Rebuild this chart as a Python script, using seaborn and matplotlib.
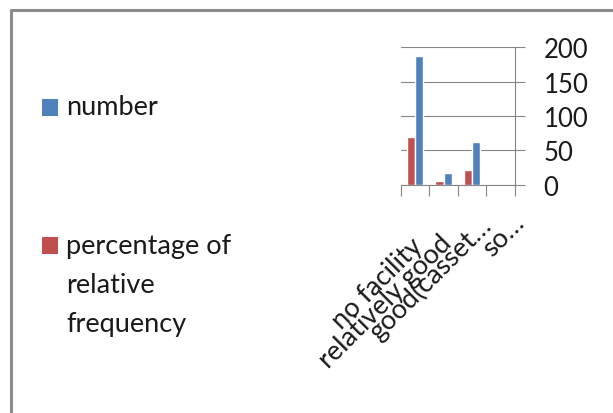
import matplotlib
matplotlib.use("Agg")
import matplotlib.pyplot as plt
from matplotlib.lines import Line2D
from matplotlib.patches import Rectangle
from matplotlib.transforms import ScaledTranslation
import seaborn as sns
import pandas as pd

# Library facility categories (labels truncated as in the original chart)
categories = ["no facility", "relatively good", "good(casset…", "so…"]
number = [187, 17, 62, 0]
percentage = [70, 5, 21, 0]
series_names = ["percentage of relative frequency", "number"]

df = pd.DataFrame({
    "category": categories * 2,
    "value": percentage + number,
    "series": [series_names[0]] * len(categories) + [series_names[1]] * len(categories),
})

RED = "#C0504D"
BLUE = "#4F81BD"
GRID = "#868686"
FRAME = "#8C8C8C"
TEXT = "#1a1a1a"

sns.set_theme(style="white")
plt.rcParams["font.family"] = ["Lato", "DejaVu Sans"]

fig = plt.figure(figsize=(6.13, 4.14), dpi=100)
ax = fig.add_axes([0.654, 0.5515, 0.186, 0.3318])

sns.barplot(data=df, x="category", y="value", hue="series",
            hue_order=series_names, palette=[RED, BLUE],
            width=0.58, saturation=1, ax=ax, legend=False)

ax.set_ylim(0, 200)
ax.set_xlim(-0.5, len(categories) - 0.5)
ax.set_xlabel("")
ax.set_ylabel("")

# value axis on the right
ax.yaxis.tick_right()
ax.set_yticks([0, 50, 100, 150, 200])
ax.tick_params(axis="y", which="major", direction="out", length=7.5, width=0.8,
               color=GRID, pad=13, labelsize=18.5, labelcolor=TEXT, right=True, left=False)
ax.yaxis.grid(True, color=GRID, linewidth=0.8)
ax.set_axisbelow(True)

# category boundaries as ticks, labels at centres
ax.set_xticks([i - 0.5 for i in range(len(categories) + 1)])
ax.set_xticklabels([])
ax.set_xticks(range(len(categories)), categories, minor=True)
ax.tick_params(axis="x", which="major", direction="out", length=8, width=0.8,
               color=GRID, bottom=True)
ax.tick_params(axis="x", which="minor", length=0, pad=24, labelsize=19.5,
               labelcolor=TEXT)
# rotated labels: longer ones hang lower, truncated ones sit further right
label_shift_px = [(4, -24), (4, -21), (15, -3), (20, 0)]
for lab, (dx, dy) in zip(ax.get_xticklabels(minor=True), label_shift_px):
    lab.set_rotation(45)
    lab.set_ha("right")
    lab.set_rotation_mode("anchor")
    lab.set_va("center")
    lab.set_transform(lab.get_transform() +
                      ScaledTranslation(dx / 100, dy / 100, fig.dpi_scale_trans))

for side in ["top", "left"]:
    ax.spines[side].set_visible(False)
for side in ["bottom", "right"]:
    ax.spines[side].set_color(GRID)
    ax.spines[side].set_linewidth(0.8)

# legend on the left
W, H = 613, 414
def fx(px):
    return px / W
def fy(py):
    return 1 - py / H

fig.add_artist(Rectangle((fx(42), fy(117)), 16 / W, 17 / H, transform=fig.transFigure,
                         facecolor=BLUE, edgecolor="none"))
fig.add_artist(Rectangle((fx(42), fy(255)), 16 / W, 17 / H, transform=fig.transFigure,
                         facecolor=RED, edgecolor="none"))
fig.text(fx(66), fy(115), "number", fontsize=19.5, color=TEXT, va="baseline", ha="left")
fig.text(fx(66), fy(332), "percentage of\nrelative\nfrequency", fontsize=19.5,
         color=TEXT, va="baseline", ha="left", linespacing=1.69)

# chart frame
fig.add_artist(Line2D([fx(10.5), 1], [fy(10.5), fy(10.5)], transform=fig.transFigure,
                      color=FRAME, linewidth=2.2))
fig.add_artist(Line2D([fx(10.5), fx(10.5)], [0, fy(10.5)], transform=fig.transFigure,
                      color=FRAME, linewidth=2.2))

fig.savefig("out.png", dpi=100, facecolor="white")
